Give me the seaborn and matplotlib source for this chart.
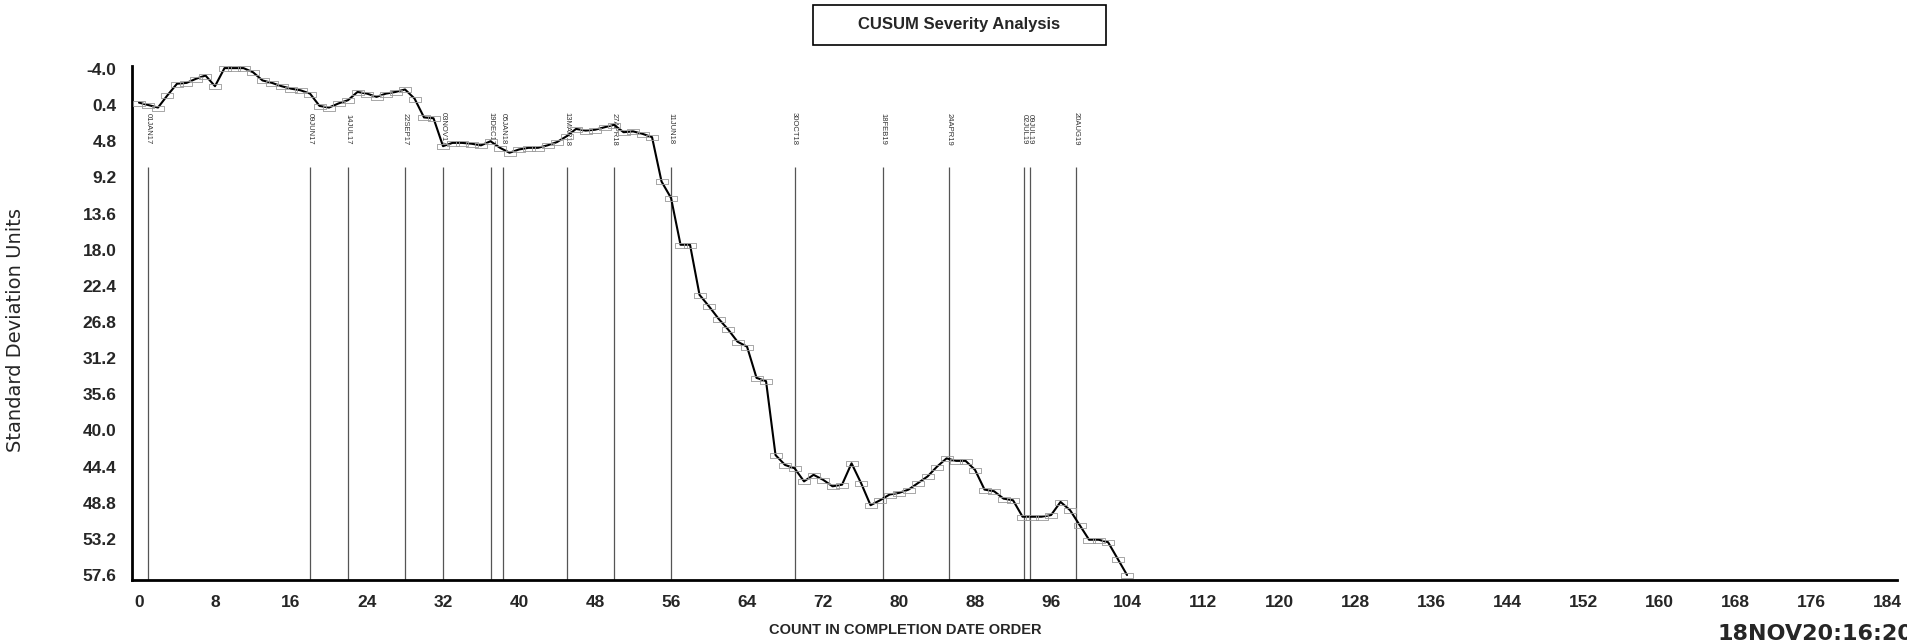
import numpy as np
import pandas as pd
import matplotlib
matplotlib.use('Agg')
import matplotlib.pyplot as plt
from matplotlib.patches import Rectangle
from matplotlib.ticker import FixedLocator, MultipleLocator
import seaborn as sns

# ---- data ----
count = list(range(0, 105))
cusum = [0.1, 0.4, 0.7, -0.8, -2.2, -2.3, -2.8, -3.2, -1.9, -4.1,
         -4.1, -4.1, -3.6, -2.6, -2.3, -1.9, -1.6, -1.4, -1.0, 0.5,
         0.7, 0.2, -0.2, -1.2, -1.0, -0.6, -1.0, -1.2, -1.5, -0.4,
         1.9, 2.0, 5.4, 5.0, 5.0, 5.1, 5.3, 4.8, 5.6, 6.2,
         5.8, 5.6, 5.6, 5.3, 4.9, 4.2, 3.3, 3.5, 3.4, 3.1,
         2.8, 3.7, 3.6, 3.9, 4.3, 9.7, 11.7, 17.4, 17.4, 23.5,
         24.9, 26.4, 27.7, 29.2, 29.8, 33.6, 34.0, 43.0, 44.2, 44.6,
         46.2, 45.4, 46.0, 46.8, 46.6, 44.0, 46.4, 49.1, 48.5, 47.8,
         47.6, 47.2, 46.4, 45.6, 44.4, 43.4, 43.7, 43.7, 44.8, 47.2,
         47.4, 48.3, 48.5, 50.5, 50.5, 50.5, 50.3, 48.7, 49.7, 51.5,
         53.3, 53.3, 53.6, 55.6, 57.6]

event_x = [1, 18, 22, 28, 32, 37, 38.3, 45, 50, 56, 69, 78.3, 85.3, 93.2, 93.8, 98.6]
event_labels = ['01JAN17', '09JUN17', '14JUL17', '22SEP17', '03NOV17', '19DEC17',
                '05JAN18', '13MAR18', '27APR18', '11JUN18', '30OCT18', '18FEB19',
                '24APR19', '02JUL19', '09JUL19', '20AUG19']

y_ticks = [-4.0, 0.4, 4.8, 9.2, 13.6, 18.0, 22.4, 26.8, 31.2, 35.6, 40.0,
           44.4, 48.8, 53.2, 57.6]
x_ticks = list(range(0, 185, 8))

df = pd.DataFrame({'count': count, 'cusum': cusum})

sns.set_style('white')
plt.rcParams['font.family'] = ['Liberation Sans', 'DejaVu Sans']

fig = plt.figure(figsize=(19.07, 6.41), dpi=100)
ax = fig.add_axes([0.0692, 0.0952, 0.9256, 0.8011])

# event lines with their date labels
ax.vlines(event_x, 7.9, 58.2, color='#555555', lw=0.9, zorder=1)
for xv, lab in zip(event_x, event_labels):
    ax.text(xv, 3.3, lab, rotation=270, fontsize=5.5, color='#333333',
            ha='center', va='center', zorder=2,
            family=['Liberation Sans Narrow', 'Liberation Sans'])

box = [(-1, -0.45), (1, -0.45), (1, 0.45), (-1, 0.45), (-1, -0.45)]
sns.lineplot(data=df, x='count', y='cusum', ax=ax, color='black', lw=1.5,
             marker=box, markersize=8, markerfacecolor='none',
             markeredgecolor='#999999', markeredgewidth=0.6, zorder=3)

ax.set_xlim(-0.74, 185.05)
ax.set_ylim(58.2, -4.3)

ax.yaxis.set_major_locator(FixedLocator(y_ticks))
ax.set_yticklabels([f'{v:.1f}' for v in y_ticks])
ax.yaxis.set_minor_locator(FixedLocator([v + 2.2 for v in y_ticks[:-1]]))
ax.xaxis.set_major_locator(FixedLocator(x_ticks))
ax.set_xticklabels([str(v) for v in x_ticks])
ax.xaxis.set_minor_locator(MultipleLocator(4))

for sp in ['top', 'right']:
    ax.spines[sp].set_visible(False)
for sp in ['left', 'bottom']:
    ax.spines[sp].set_linewidth(2)
    ax.spines[sp].set_color('black')

ax.tick_params(axis='both', which='major', direction='out', length=5, width=1,
               labelsize=12.5, color='black')
ax.tick_params(axis='both', which='minor', direction='out', length=3, width=0.8,
               color='black')
ax.tick_params(axis='y', pad=6)
ax.tick_params(axis='x', pad=6)
for t in ax.get_xticklabels() + ax.get_yticklabels():
    t.set_fontweight('bold')

ax.set_xlabel('')
ax.set_ylabel('')

fig.text(16 / 1907, 1 - 330 / 641, 'Standard Deviation Units', rotation=90,
         ha='center', va='center', fontsize=14,
         family=['Liberation Sans Narrow', 'DejaVu Sans'])
fig.text(905 / 1907, 1 - 630 / 641, 'COUNT IN COMPLETION DATE ORDER',
         ha='center', va='center', fontsize=10.5, fontweight='bold')
fig.text(1717 / 1907, 1 - 634 / 641, '18NOV20:16:20', ha='left', va='center',
         fontsize=16, fontweight='bold', family=['DejaVu Sans'])

# title box
fig.patches.append(Rectangle((813 / 1907, 1 - 45 / 641), 293 / 1907, 40 / 641,
                             transform=fig.transFigure, fill=False,
                             edgecolor='black', lw=1.2))
fig.text(959.5 / 1907, 1 - 25 / 641, 'CUSUM Severity Analysis', ha='center',
         va='center', fontsize=12, fontweight='bold')

fig.savefig('out.png', dpi=100)
